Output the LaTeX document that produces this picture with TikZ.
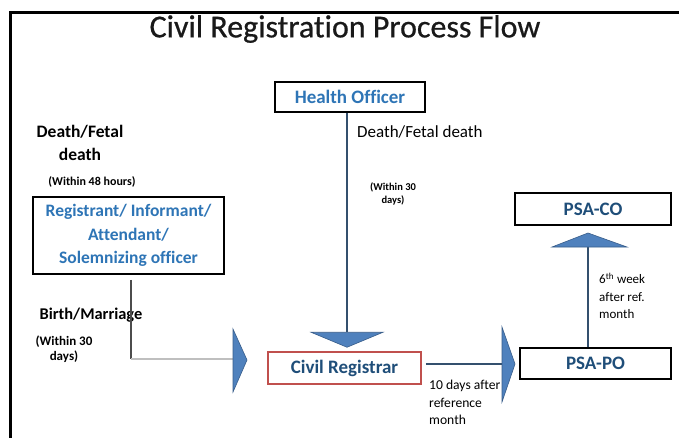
\documentclass[tikz,border=0pt]{standalone}
\usepackage{fontspec}
\setmainfont{Carlito}[Ligatures=NoCommon]
\definecolor{hblue}{HTML}{2E75B6}
\definecolor{dblue}{HTML}{1F4E79}
\definecolor{afill}{HTML}{4F81BD}
\definecolor{aedge}{HTML}{385D8A}
\definecolor{lineblue}{HTML}{34506E}
\definecolor{rborder}{HTML}{C0504D}
\begin{document}
\begin{tikzpicture}[x=1pt,y=-1pt,
  box/.style={draw=black, line width=1.8pt, inner sep=0pt, fill=white,
    font=\fontsize{19}{22}\selectfont\bfseries},
  lbl/.style={inner sep=0pt},
  conn/.style={draw=lineblue, line width=1.6pt},
  head/.style={fill=afill, draw=aedge, line width=0.6pt, line join=miter}]
\useasboundingbox (0,0) rectangle (679,437);
\fill[white] (0,0) rectangle (679,437);
% frame
\draw[line width=3pt] (10.5,460) -- (10.5,12.5) -- (700,12.5);
% title
\node[lbl, font=\fontsize{32}{36}\selectfont, text=black!90] (title) at (345,29) {\addfontfeature{FakeBold=0.6}Civil Registration Process Flow};
% boxes
\node[box, minimum width=150pt, minimum height=30pt, text=hblue] (ho) at (350,97) {Health Officer};
\node[box, minimum width=191pt, minimum height=77pt, align=center, text=hblue,
  font=\fontsize{17.5}{23.5}\selectfont\bfseries] (reg) at (128.5,235.5) {Registrant/ Informant/\\Attendant/\\Solemnizing officer};
\node[box, draw=rborder, line width=1.5pt, minimum width=153pt, minimum height=32pt, text=dblue] (cr) at (344.5,368) {Civil Registrar};
\node[box, minimum width=151pt, minimum height=31pt, text=dblue] (po) at (595.5,363.5) {PSA-PO};
\node[box, minimum width=156pt, minimum height=32pt, text=dblue] (co) at (593,209) {PSA-CO};
% labels
\node[lbl, align=center, font=\fontsize{17.5}{23}\selectfont\bfseries] (dfl) at (80,143) {Death/Fetal\\death};
\node[lbl, font=\fontsize{12}{14}\selectfont\bfseries] (w48) at (92,182) {(Within 48 hours)};
\node[lbl, anchor=west, font=\fontsize{17}{20}\selectfont] (dfr) at (357,132) {Death/Fetal death};
\node[lbl, align=center, font=\fontsize{10.5}{12.5}\selectfont\bfseries] (w30r) at (393,194) {(Within 30\\days)};
\node[lbl, font=\fontsize{16.4}{19}\selectfont\bfseries] (bm) at (91,315) {Birth/Marriage};
\node[lbl, align=center, font=\fontsize{13}{14.5}\selectfont\bfseries] (w30l) at (64,349) {(Within 30\\days)};
\node[lbl, anchor=north west, align=left, font=\fontsize{13.6}{17.5}\selectfont] (ten) at (429,380) {10 days after\\reference\\month};
\node[lbl, anchor=west, align=left, font=\fontsize{13}{17.5}\selectfont] (six) at (599,296) {6\textsuperscript{th} week\\after ref.\\month};
% Health Officer -> Civil Registrar
\coordinate (hoS) at ([xshift=-3pt]ho.south);
\coordinate (crTip) at ([xshift=2.5pt,yshift=4pt]cr.north);
\coordinate (crBase) at ([yshift=15pt]crTip);
\draw[conn] (hoS) -- (crBase);
\filldraw[head] ([xshift=-36pt]crBase) -- ([xshift=36pt]crBase) -- (crTip) -- cycle;
% Registrant -> Civil Registrar
\coordinate (regS) at ([xshift=2.5pt,yshift=-5pt]reg.south);
\coordinate (lBend) at (regS |- 0,359);
\coordinate (lBase) at (233,359);
\draw[draw=black!70, line width=1.3pt] (regS) -- (lBend);
\draw[draw=black!25, line width=1.5pt] (lBend) -- (lBase);
\filldraw[head] (233,329) -- (247,360) -- (233,392) -- cycle;
% Civil Registrar -> PSA-PO
\coordinate (crE) at ([xshift=4pt,yshift=4pt]cr.east);
\coordinate (rBase) at (502,364);
\draw[conn] (crE) -- (rBase);
\filldraw[head] (502,327) -- (515,364) -- (502,402) -- cycle;
% PSA-PO -> PSA-CO
\coordinate (poN) at ([xshift=-7.5pt]po.north);
\coordinate (uBase) at (588,247);
\draw[conn] (poN) -- (uBase);
\filldraw[head] (552,247) -- (588,233) -- (627,247) -- cycle;
\end{tikzpicture}
\end{document}
